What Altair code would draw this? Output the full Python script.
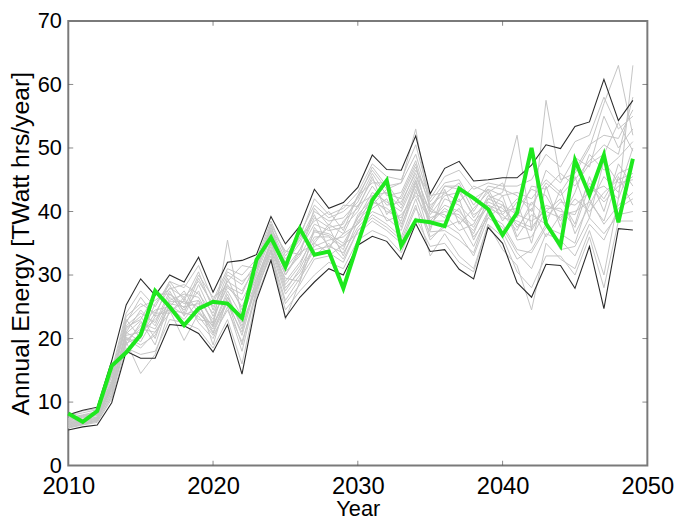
import altair as alt
import pandas as pd

years = list(range(2010, 2050))

green = [8.2, 6.9, 8.6, 15.7, 17.8, 20.6, 27.5, 25.0, 22.1, 24.7,
         25.8, 25.5, 23.2, 32.4, 35.9, 31.3, 37.3, 33.2, 33.7, 27.9,
         35.0, 41.8, 44.9, 34.6, 38.6, 38.3, 37.7, 43.6, 42.1, 40.4,
         36.3, 39.8, 50.0, 38.1, 34.6, 48.1, 42.6, 48.9, 38.3, 48.3]

upper = [8.0, 8.7, 9.2, 16.5, 25.3, 29.4, 26.8, 30.0, 28.9, 32.8,
         27.3, 32.0, 32.3, 33.2, 39.2, 34.9, 37.7, 43.5, 40.5, 41.4,
         43.8, 48.9, 46.6, 46.5, 51.9, 42.8, 46.8, 47.9, 44.8, 45.0,
         45.3, 45.3, 47.3, 50.5, 49.9, 53.4, 54.1, 60.8, 54.3, 57.5]

lower = [5.6, 6.1, 6.4, 9.9, 18.0, 16.9, 16.9, 22.2, 22.0, 20.8,
         17.9, 22.2, 14.4, 26.0, 32.3, 23.3, 26.5, 28.9, 31.0, 30.0,
         34.7, 36.1, 35.3, 32.5, 38.1, 33.7, 34.0, 30.9, 29.4, 37.5,
         35.0, 28.8, 26.5, 31.7, 31.5, 27.9, 34.5, 24.7, 37.3, 37.1]

g1 = [7.0, 7.5, 8.0, 12.5, 21.0, 24.5, 22.0, 27.0, 25.5, 26.0, 23.0, 28.5, 25.0, 30.0, 36.0, 30.5, 33.0, 37.0, 36.5, 35.0,
      39.0, 43.0, 41.5, 40.0, 45.0, 38.5, 41.0, 40.0, 37.5, 41.5, 40.5, 38.0, 37.0, 41.0, 40.0, 39.5, 44.5, 42.0, 46.0, 47.0]
g2 = [6.5, 7.0, 7.5, 11.5, 19.5, 22.0, 24.5, 25.0, 27.5, 24.0, 21.5, 26.0, 20.5, 28.5, 34.5, 27.5, 31.0, 35.5, 37.5, 33.0,
      38.5, 41.0, 43.5, 38.0, 43.0, 40.5, 39.0, 42.0, 35.5, 40.0, 42.5, 36.0, 39.5, 38.0, 43.5, 36.5, 41.0, 45.5, 43.0, 50.0]
g3 = [7.5, 8.0, 8.5, 14.0, 23.0, 20.0, 25.5, 28.5, 24.0, 29.5, 25.0, 29.0, 27.5, 31.5, 37.0, 32.0, 35.0, 39.5, 34.0, 38.5,
      40.5, 45.5, 39.5, 42.5, 47.5, 37.0, 43.5, 38.0, 40.5, 43.0, 38.5, 41.5, 35.0, 44.0, 37.5, 45.5, 39.0, 48.0, 44.5, 45.0]
g4 = [6.0, 6.5, 7.0, 11.0, 20.0, 18.5, 21.0, 24.0, 26.5, 22.5, 20.0, 25.0, 18.0, 27.5, 33.5, 26.0, 29.5, 33.0, 35.0, 32.5,
      37.0, 39.5, 38.0, 36.0, 42.0, 35.5, 38.0, 36.5, 33.0, 39.0, 37.5, 33.5, 31.0, 36.5, 35.5, 33.0, 38.0, 35.5, 40.5, 42.0]
g5 = [7.2, 7.8, 8.2, 13.5, 22.5, 26.5, 23.5, 29.0, 26.0, 30.5, 24.5, 30.0, 28.5, 32.0, 38.0, 33.5, 36.5, 41.0, 39.0, 40.0,
      42.0, 47.0, 44.0, 44.5, 49.0, 41.5, 44.5, 45.0, 41.0, 44.0, 43.5, 42.5, 40.0, 46.5, 44.5, 48.5, 47.0, 55.0, 50.0, 53.0]
g6 = [6.8, 7.2, 7.6, 12.0, 21.5, 23.5, 20.0, 26.5, 24.5, 27.5, 22.0, 27.5, 23.5, 29.0, 35.5, 29.0, 32.0, 36.0, 36.0, 34.0,
      39.5, 42.0, 40.0, 39.0, 44.0, 39.0, 40.0, 39.5, 36.5, 42.0, 41.0, 39.5, 38.5, 40.0, 42.0, 38.0, 45.5, 40.0, 47.5, 44.0]
g7 = [6.3, 6.8, 7.3, 12.8, 20.5, 21.0, 23.0, 25.5, 25.0, 25.5, 21.0, 26.5, 22.0, 28.0, 35.0, 28.0, 30.5, 34.5, 35.5, 36.0,
      38.0, 40.5, 42.0, 37.5, 44.5, 37.5, 42.0, 41.0, 38.5, 40.5, 39.5, 37.0, 41.5, 39.0, 41.5, 41.0, 43.0, 44.0, 42.0, 48.0]
g8 = [7.8, 8.3, 8.8, 15.0, 24.0, 27.5, 25.0, 29.0, 28.0, 31.5, 26.0, 31.0, 30.0, 32.5, 38.5, 33.0, 36.0, 42.0, 39.5, 40.5,
      43.0, 47.5, 45.5, 45.0, 50.5, 42.0, 45.5, 46.5, 43.5, 44.5, 44.0, 44.0, 45.0, 49.0, 47.0, 51.0, 52.0, 58.0, 53.0, 55.0]
g9 = [5.9, 6.4, 6.8, 10.5, 18.5, 17.5, 18.0, 23.0, 22.5, 21.5, 18.5, 23.0, 16.0, 26.5, 32.5, 24.5, 27.5, 30.0, 32.0, 31.0,
      35.5, 37.0, 36.0, 33.5, 39.0, 34.5, 35.0, 32.0, 30.5, 38.0, 36.0, 30.5, 28.0, 33.0, 33.0, 30.0, 36.0, 28.0, 38.5, 38.5]
g10 = [6.7, 7.1, 7.7, 13.0, 22.0, 24.0, 22.5, 27.5, 23.5, 28.5, 23.5, 28.0, 26.0, 30.5, 36.5, 31.0, 34.0, 38.0, 37.0, 37.5,
       40.0, 44.0, 41.0, 41.5, 46.0, 39.5, 42.5, 43.0, 39.5, 41.0, 40.0, 40.5, 43.5, 42.5, 38.5, 43.0, 49.0, 46.5, 48.5, 51.0]
g11 = [7.1, 7.6, 8.1, 12.2, 19.0, 22.5, 21.5, 26.0, 27.0, 26.5, 22.5, 29.5, 24.5, 29.5, 35.0, 30.0, 33.5, 35.0, 38.0, 36.5,
       41.0, 42.5, 43.0, 40.5, 45.5, 40.0, 39.5, 37.0, 38.0, 42.5, 41.5, 35.5, 36.0, 40.0, 39.0, 42.0, 40.0, 43.0, 45.0, 46.0]
g12 = [6.2, 6.7, 7.1, 11.8, 21.0, 19.5, 23.5, 24.5, 24.0, 23.5, 20.5, 24.5, 19.5, 27.0, 34.0, 27.0, 30.0, 34.0, 34.5, 33.5,
       37.5, 40.0, 39.0, 37.0, 43.5, 36.0, 37.5, 38.5, 34.5, 39.5, 38.0, 34.0, 33.5, 37.5, 36.5, 35.0, 42.0, 38.0, 41.0, 43.0]
g13 = [7.4, 7.9, 8.4, 14.5, 23.5, 25.5, 24.0, 28.0, 26.5, 29.0, 25.5, 30.5, 29.0, 31.0, 37.5, 32.5, 35.5, 40.0, 38.5, 39.0,
       41.5, 46.0, 42.5, 43.0, 48.0, 40.5, 44.0, 44.0, 42.0, 43.5, 42.5, 43.0, 42.0, 45.0, 43.0, 46.5, 50.5, 52.0, 51.5, 56.0]
g14 = [6.6, 7.0, 7.4, 12.4, 20.8, 22.8, 19.0, 25.8, 25.8, 25.0, 21.8, 27.0, 21.5, 28.8, 35.2, 28.5, 31.5, 36.8, 36.2, 34.5,
       39.0, 41.5, 40.5, 38.5, 44.8, 38.0, 40.5, 39.0, 37.0, 41.0, 39.0, 38.5, 37.5, 40.5, 40.5, 37.5, 44.0, 41.5, 44.0, 45.5]
g15 = [7.9, 8.6, 9.0, 13.0, 19.5, 14.5, 17.5, 24.5, 19.7, 24.0, 22.0, 35.5, 23.0, 30.5, 38.0, 30.0, 34.0, 39.0, 37.5, 38.0,
       42.5, 46.5, 43.5, 44.5, 53.0, 40.0, 44.0, 43.5, 39.0, 42.0, 43.0, 52.0, 37.0, 57.5, 45.0, 46.0, 50.0, 57.0, 63.0, 52.0]
g16 = [6.1, 6.6, 7.2, 12.6, 19.8, 21.5, 21.0, 25.0, 23.0, 26.0, 19.0, 26.5, 22.5, 28.0, 34.0, 23.0, 29.0, 35.0, 33.5, 32.0,
       37.0, 39.0, 37.5, 35.5, 41.0, 33.0, 36.5, 33.0, 31.0, 38.0, 34.0, 31.5, 24.5, 35.0, 32.5, 31.0, 37.0, 30.0, 42.0, 63.0]
g17 = [6.9, 7.3, 7.9, 13.2, 22.8, 25.0, 26.0, 27.8, 28.5, 27.0, 24.0, 29.0, 31.5, 31.0, 36.8, 31.5, 36.0, 38.5, 40.0, 37.0,
       42.5, 44.5, 44.5, 41.0, 46.5, 42.5, 43.0, 41.5, 44.0, 43.0, 44.5, 39.0, 44.0, 43.5, 46.0, 44.0, 47.5, 49.0, 54.0, 49.5]
g18 = [6.4, 6.9, 7.4, 11.2, 19.2, 20.5, 24.0, 24.0, 26.0, 23.0, 22.5, 25.5, 21.0, 29.5, 33.8, 29.5, 29.0, 37.5, 34.5, 36.5,
       38.0, 42.5, 38.5, 39.5, 42.5, 38.5, 38.5, 40.5, 36.0, 39.0, 41.0, 37.5, 40.5, 36.0, 39.5, 40.0, 41.5, 38.5, 45.5, 41.0]
g19 = [7.3, 7.7, 8.3, 14.2, 21.8, 23.0, 27.0, 27.0, 24.8, 30.0, 26.5, 28.2, 27.0, 32.2, 37.2, 33.8, 33.2, 40.5, 37.8, 41.0,
       40.8, 45.0, 42.8, 42.0, 47.0, 41.0, 42.8, 44.5, 40.0, 43.5, 39.5, 42.0, 41.0, 44.5, 42.5, 45.0, 48.0, 50.5, 49.0, 58.0]
g20 = [6.0, 6.5, 7.0, 10.8, 20.2, 19.0, 20.5, 25.2, 23.8, 24.5, 20.8, 25.8, 19.0, 27.8, 33.0, 25.5, 28.5, 32.5, 33.0, 34.8,
       36.5, 38.5, 37.0, 35.0, 40.5, 36.8, 37.0, 35.5, 33.5, 40.0, 36.8, 32.5, 34.0, 38.0, 34.0, 34.5, 39.0, 36.5, 39.5, 40.0]

gray_series = [g1, g2, g3, g4, g5, g6, g7, g8, g9, g10,
               g11, g12, g13, g14, g15, g16, g17, g18, g19, g20]

x_ticks = [2010, 2020, 2030, 2040, 2050]
y_ticks = [0, 10, 20, 30, 40, 50, 60, 70]

W, H = 586, 450
FONT = "Liberation Sans"

rows = []
for i, s in enumerate(gray_series):
    for y, v in zip(years, s):
        rows.append({"year": y, "value": v, "series": f"g{i}"})
gray_df = pd.DataFrame(rows)

rows = []
for name, s in (("upper", upper), ("lower", lower)):
    for y, v in zip(years, s):
        rows.append({"year": y, "value": v, "series": name})
black_df = pd.DataFrame(rows)

green_df = pd.DataFrame({"year": years, "value": green})

xs = alt.Scale(domain=[2010, 2050], nice=False, zero=False)
ys = alt.Scale(domain=[0, 70], nice=False)

xenc = alt.X("year:Q", scale=xs, axis=alt.Axis(
    values=x_ticks, format="d", title="Year", labelFontSize=24, titleFontSize=22,
    labelPadding=9, titlePadding=1, labelFlush=False, labelColor="black",
    titleColor="black", labelFont=FONT, titleFont=FONT, titleFontWeight="normal",
    domain=False, ticks=False, grid=False))
yenc = alt.Y("value:Q", scale=ys, axis=alt.Axis(
    values=y_ticks, title="Annual Energy [TWatt hrs/year]", labelFontSize=22,
    titleFontSize=25, labelPadding=7, titlePadding=4, labelColor="black",
    titleColor="black", labelFont=FONT, titleFont=FONT, titleFontWeight="normal",
    domain=False, ticks=False, grid=False))

gray = alt.Chart(gray_df).mark_line(color="#c4c4c4", strokeWidth=1).encode(
    x=xenc, y=yenc, detail="series:N")
black = alt.Chart(black_df).mark_line(color="#2a2a2a", strokeWidth=1.1).encode(
    x="year:Q", y="value:Q", detail="series:N")
greenl = alt.Chart(green_df).mark_line(color="#1ee81e", strokeWidth=4).encode(
    x="year:Q", y="value:Q")

yt = pd.DataFrame({"v": y_ticks[1:-1]})
xt = pd.DataFrame({"v": x_ticks[1:-1]})
tick_col = "#555555"
left_t = alt.Chart(yt).mark_tick(color=tick_col, thickness=1, size=5).encode(
    y=alt.Y("v:Q", scale=ys), x=alt.value(2.5))
right_t = alt.Chart(yt).mark_tick(color=tick_col, thickness=1, size=5).encode(
    y=alt.Y("v:Q", scale=ys), x=alt.value(W - 2.5))
bot_t = alt.Chart(xt).mark_tick(color=tick_col, thickness=1, size=5).encode(
    x=alt.X("v:Q", scale=xs), y=alt.value(H - 2.5))
top_t = alt.Chart(xt).mark_tick(color=tick_col, thickness=1, size=5).encode(
    x=alt.X("v:Q", scale=xs), y=alt.value(2.5))

chart = alt.layer(gray, black, greenl, left_t, right_t, bot_t, top_t).properties(
    width=W, height=H,
    autosize=alt.AutoSizeParams(type="none"),
    padding={"left": 61, "top": 10, "right": 30, "bottom": 54},
    background="white",
).configure_view(stroke="#7a7a7a", strokeWidth=2)

chart.save("out.html", embed_options={"renderer": "svg", "actions": False})
